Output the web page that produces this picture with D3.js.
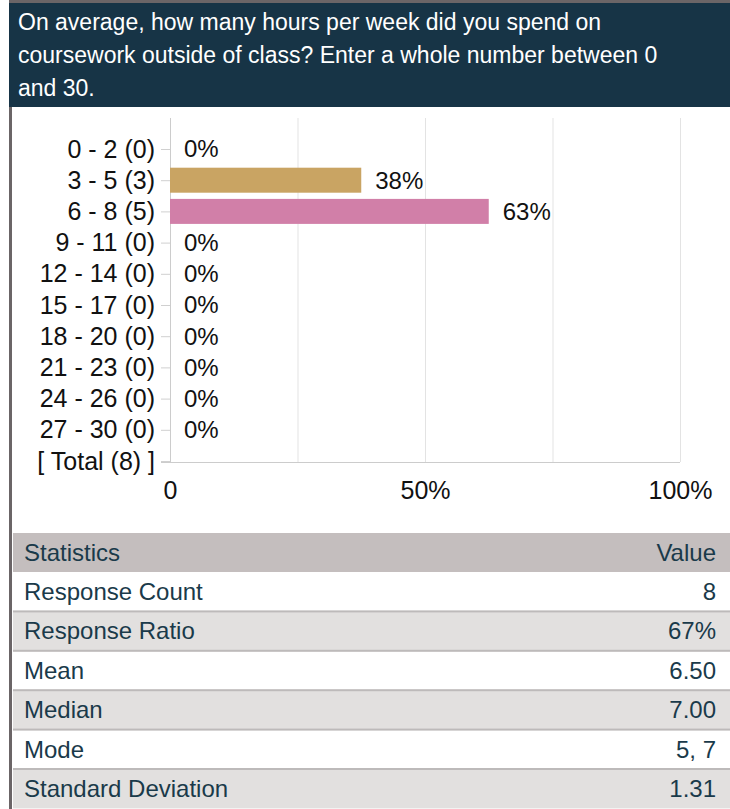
<!DOCTYPE html>
<html>
<head>
<meta charset="utf-8">
<script src="https://cdn.jsdelivr.net/npm/d3@7"></script>
<style>
  html, body { margin: 0; padding: 0; background: #fff; }
  svg { display: block; font-family: "Liberation Sans", Arial, sans-serif; }
</style>
</head>
<body>
<div id="chart"></div>
<script>
const width = 730;
const height = 809;

// question text, as wrapped in the picture
const titleLines = [
  'On average, how many hours per week did you spend on',
  'coursework outside of class? Enter a whole number between 0',
  'and 30.'
];

// answer ranges and counts
const ranges = ['0 - 2', '3 - 5', '6 - 8', '9 - 11', '12 - 14', '15 - 17',
  '18 - 20', '21 - 23', '24 - 26', '27 - 30'];
const counts = [0, 3, 5, 0, 0, 0, 0, 0, 0, 0];
const percents = [0, 37.5, 62.5, 0, 0, 0, 0, 0, 0, 0];
const barColors = ['#c9a463', '#c9a463', '#d17fa8', '#c9a463', '#c9a463', '#c9a463',
  '#c9a463', '#c9a463', '#c9a463', '#c9a463'];
const totalCount = 8;
const xTicks = [0, 50, 100];
const gridTicks = [0, 25, 50, 75, 100];

// statistics table
const statNames = ['Response Count', 'Response Ratio', 'Mean', 'Median', 'Mode', 'Standard Deviation'];
const statValues = ['8', '67%', '6.50', '7.00', '5, 7', '1.31'];

const rows = ranges.map((r, i) => ({
  label: `${r} (${counts[i]})`,
  pct: percents[i],
  color: barColors[i]
}));
const categories = rows.map(d => d.label).concat([`[ Total (${totalCount}) ]`]);

const svg = d3.select('#chart').append('svg')
  .attr('width', width)
  .attr('height', height);

// page frame
svg.append('rect').attr('x', 9).attr('y', 0).attr('width', width - 9).attr('height', 3).attr('fill', '#6b6567');
svg.append('rect').attr('x', 9).attr('y', 0).attr('width', 3).attr('height', height).attr('fill', '#6b6567');

// header
svg.append('rect').attr('x', 9).attr('y', 3).attr('width', width - 9).attr('height', 104).attr('fill', '#173446');
svg.append('g')
  .selectAll('text')
  .data(titleLines)
  .join('text')
  .attr('x', 18)
  .attr('y', (d, i) => 30 + i * 33)
  .attr('fill', '#ffffff')
  .style('font-size', '23px')
  .text(d => d);

// chart area
const plot = { left: 170, right: 680, top: 118, bottom: 462 };

const x = d3.scaleLinear().domain([0, 100]).range([plot.left, plot.right]);
const y = d3.scalePoint().domain(categories).range([149, 461]);

// gridlines
svg.append('g')
  .selectAll('line')
  .data(gridTicks)
  .join('line')
  .attr('x1', d => x(d) + 0.5).attr('x2', d => x(d) + 0.5)
  .attr('y1', plot.top).attr('y2', plot.bottom)
  .attr('stroke', d => d === 0 ? '#cccccc' : '#e3e3e3')
  .attr('stroke-width', 1);

// baseline
svg.append('line')
  .attr('x1', 161).attr('x2', plot.right)
  .attr('y1', plot.bottom + 0.5).attr('y2', plot.bottom + 0.5)
  .attr('stroke', '#cccccc');

// left axis
const yAxis = svg.append('g')
  .attr('transform', `translate(${plot.left},0)`)
  .call(d3.axisLeft(y).tickSize(9).tickPadding(6));
yAxis.select('.domain').remove();
yAxis.selectAll('.tick line').attr('stroke', '#d0d0d0');
yAxis.selectAll('.tick text')
  .attr('fill', '#111')
  .style('font-size', '25px')
  .style('font-family', '"Liberation Sans", Arial, sans-serif');

// bottom axis labels
const xAxis = svg.append('g')
  .attr('transform', `translate(0,${plot.bottom})`)
  .call(d3.axisBottom(x).tickValues(xTicks).tickSize(0).tickPadding(19)
    .tickFormat(d => d === 0 ? '0' : d + '%'));
xAxis.select('.domain').remove();
xAxis.selectAll('.tick text')
  .attr('fill', '#111')
  .style('font-size', '25px')
  .style('font-family', '"Liberation Sans", Arial, sans-serif');

// bars
const barH = 25;
svg.append('g')
  .selectAll('rect')
  .data(rows.filter(d => d.pct > 0))
  .join('rect')
  .attr('x', x(0))
  .attr('y', d => y(d.label) - barH / 2)
  .attr('width', d => x(d.pct) - x(0))
  .attr('height', barH)
  .attr('fill', d => d.color);

// value labels
svg.append('g')
  .selectAll('text')
  .data(rows)
  .join('text')
  .attr('x', d => x(d.pct) + 14)
  .attr('y', d => y(d.label))
  .attr('dy', '0.35em')
  .attr('fill', '#111')
  .style('font-size', '24px')
  .text(d => Math.round(d.pct) + '%');

// statistics table
const table = { left: 13, right: 730, top: 533, headH: 39, rowH: 39.4 };
svg.append('rect')
  .attr('x', table.left).attr('y', table.top)
  .attr('width', table.right - table.left).attr('height', table.headH)
  .attr('fill', '#c4bebe');
svg.append('text')
  .attr('x', 24).attr('y', table.top + table.headH / 2).attr('dy', '0.35em')
  .attr('fill', '#1a3a4a').style('font-size', '24px').text('Statistics');
svg.append('text')
  .attr('x', 716).attr('y', table.top + table.headH / 2).attr('dy', '0.35em')
  .attr('text-anchor', 'end')
  .attr('fill', '#1a3a4a').style('font-size', '24px').text('Value');

const statRows = statNames.map((n, i) => ({ name: n, value: statValues[i], i }));
const rowG = svg.append('g')
  .selectAll('g')
  .data(statRows)
  .join('g')
  .attr('transform', d => `translate(0,${table.top + table.headH + d.i * table.rowH})`);
rowG.append('rect')
  .attr('x', table.left).attr('y', 0)
  .attr('width', table.right - table.left).attr('height', table.rowH)
  .attr('fill', d => d.i % 2 ? '#e2e0df' : '#ffffff');
rowG.filter(d => d.i > 0).append('rect')
  .attr('x', table.left).attr('y', -1)
  .attr('width', table.right - table.left).attr('height', 2)
  .attr('fill', '#bdbaba');
rowG.append('text')
  .attr('x', 24).attr('y', table.rowH / 2).attr('dy', '0.35em')
  .attr('fill', '#1a3a4a').style('font-size', '24px').text(d => d.name);
rowG.append('text')
  .attr('x', 716).attr('y', table.rowH / 2).attr('dy', '0.35em')
  .attr('text-anchor', 'end')
  .attr('fill', '#1a3a4a').style('font-size', '24px').text(d => d.value);
</script>
</body>
</html>
